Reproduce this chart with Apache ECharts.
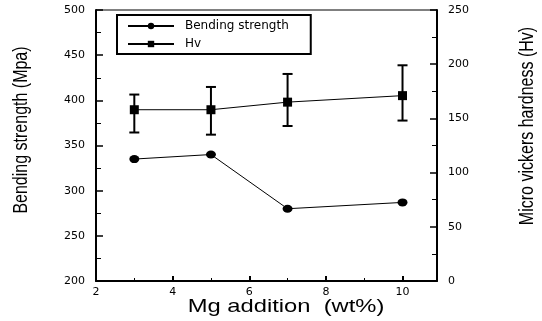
<!DOCTYPE html>
<html>
<head>
<meta charset="utf-8">
<script src="https://cdn.jsdelivr.net/npm/echarts@6/dist/echarts.min.js"></script>
<style>
  html, body { margin: 0; padding: 0; background: #fff; }
  #chart { width: 542px; height: 321px; }
</style>
</head>
<body>
<div id="chart"></div>
<script>
// Mg addition (wt%)
const mg = [3, 5, 7, 10];
// bending strength, MPa (left axis)
const bending = [335, 340, 280, 287];
// micro vickers hardness, Hv (right axis) with error bar ends
const hv = [158, 158, 165, 171];
const hvHigh = [172, 179, 191, 199];
const hvLow = [137, 135, 143, 148];

const xTicks = [2, 4, 6, 8, 10];
const leftTicks = [200, 250, 300, 350, 400, 450, 500];
const rightTicks = [0, 50, 100, 150, 200, 250];

const tickFont = { fontFamily: "DejaVu Sans", fontSize: 11, color: "#000" };

// titles drawn as text elements so they can be squeezed / stretched like the scan
const titleText = (text, x, y, rot, sx, size) => ({
  type: "text", x: x, y: y, rotation: rot, scaleX: sx,
  style: {
    text: text, fill: "#000",
    font: size + "px 'Liberation Sans', Arial, sans-serif",
    textAlign: "center", textVerticalAlign: "middle"
  }
});

const chart = echarts.init(document.getElementById("chart"));
chart.setOption({
  animation: false,
  grid: {
    left: 96, right: 105, top: 10, bottom: 40,
    show: true, borderColor: "#000", borderWidth: 1
  },
  graphic: [
    titleText("Bending strength (Mpa)", 21, 130, Math.PI / 2, 0.8, 20),
    titleText("Micro vickers hardness (Hv)", 527, 126, Math.PI / 2, 0.8, 20),
    titleText("Mg addition  (wt%)", 286, 307, 0, 1.25, 19)
  ],
  legend: {
    left: 117, top: 15,
    orient: "vertical",
    itemWidth: 46, itemHeight: 8, itemGap: 6,
    padding: [5, 22, 4, 10],
    borderColor: "#000", borderWidth: 2,
    textStyle: { fontFamily: "DejaVu Sans", fontSize: 12, color: "#000", padding: [0, 0, 0, 6] },
    data: ["Bending strength", "Hv"]
  },
  xAxis: {
    type: "value",
    min: xTicks[0], max: 10.9, interval: 2,
    axisLine: { lineStyle: { color: "#000", width: 2 } },
    axisTick: { inside: true, length: 5, lineStyle: { color: "#000", width: 2 } },
    minorTick: { show: true, splitNumber: 2, length: 3, lineStyle: { color: "#000" } },
    axisLabel: Object.assign({ margin: 6, showMaxLabel: false }, tickFont),
    splitLine: { show: false }
  },
  yAxis: [
    {
      type: "value", position: "left",
      min: leftTicks[0], max: leftTicks[leftTicks.length - 1], interval: 50,
      axisLine: { show: true, lineStyle: { color: "#000", width: 2 } },
      axisTick: { inside: true, length: 7, lineStyle: { color: "#000", width: 1.5 } },
      minorTick: { show: true, splitNumber: 2, length: 5, lineStyle: { color: "#000" } },
      axisLabel: Object.assign({ margin: 11 }, tickFont),
      splitLine: { show: false }
    },
    {
      type: "value", position: "right",
      min: rightTicks[0], max: rightTicks[rightTicks.length - 1], interval: 50,
      axisLine: { show: true, lineStyle: { color: "#000", width: 2 } },
      axisTick: { inside: true, length: 7, lineStyle: { color: "#000", width: 1.5 } },
      minorTick: { show: true, splitNumber: 2, length: 5, lineStyle: { color: "#000" } },
      axisLabel: Object.assign({ margin: 11, align: "left" }, tickFont),
      splitLine: { show: false }
    }
  ],
  series: [
    {
      name: "Bending strength", type: "line", yAxisIndex: 0,
      data: mg.map((x, i) => [x, bending[i]]),
      symbol: "circle", symbolSize: [10, 8],
      lineStyle: { color: "#000", width: 1 },
      itemStyle: { color: "#000" }
    },
    {
      name: "Hv", type: "line", yAxisIndex: 1,
      data: mg.map((x, i) => [x, hv[i]]),
      symbol: "rect", symbolSize: 9,
      lineStyle: { color: "#000", width: 1 },
      itemStyle: { color: "#000" },
      z: 3
    },
    {
      name: "Hv error", type: "custom", yAxisIndex: 1,
      data: mg.map((x, i) => [x, hvLow[i], hvHigh[i]]),
      renderItem: function (params, api) {
        const lo = api.coord([api.value(0), api.value(1)]);
        const hi = api.coord([api.value(0), api.value(2)]);
        const cap = 5;
        const style = { stroke: "#000", lineWidth: 2 };
        return {
          type: "group",
          children: [
            { type: "line", shape: { x1: hi[0], y1: hi[1], x2: lo[0], y2: lo[1] }, style: style },
            { type: "line", shape: { x1: hi[0] - cap, y1: hi[1], x2: hi[0] + cap, y2: hi[1] }, style: style },
            { type: "line", shape: { x1: lo[0] - cap, y1: lo[1], x2: lo[0] + cap, y2: lo[1] }, style: style }
          ]
        };
      },
      z: 2
    }
  ]
});
</script>
</body>
</html>
